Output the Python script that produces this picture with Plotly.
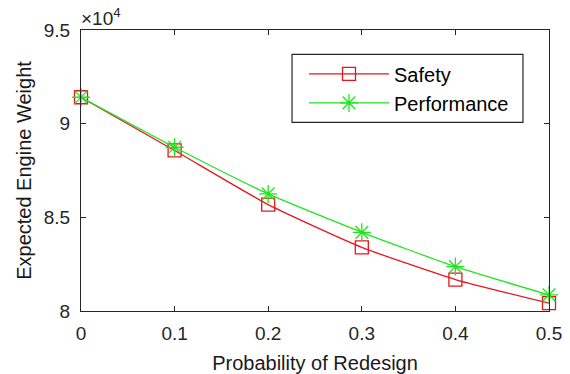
import plotly.graph_objects as go

x_vals = [0, 0.1, 0.2, 0.3, 0.4, 0.5]
safety = [91410, 88570, 85680, 83400, 81680, 80420]
performance = [91410, 88740, 86250, 84200, 82370, 80860]
x_ticks = [0, 0.1, 0.2, 0.3, 0.4, 0.5]
x_ticktext = ["0", "0.1", "0.2", "0.3", "0.4", "0.5"]
y_ticks = [80000, 85000, 90000, 95000]
y_ticktext = ["8", "8.5", "9", "9.5"]

FONT = "Liberation Sans, Arial, Helvetica, sans-serif"
AX = "#262626"

fig = go.Figure()
fig.add_trace(go.Scatter(
    x=x_vals, y=safety, name="Safety", mode="lines+markers", cliponaxis=False,
    line=dict(color="#e8141c", width=1.3, shape="spline", smoothing=0.5),
    marker=dict(symbol="square-open", size=13, color="#e8141c", line=dict(width=1.3)),
))
fig.add_trace(go.Scatter(
    x=x_vals, y=performance, name="Performance", mode="lines+markers", cliponaxis=False,
    line=dict(color="#1ee61e", width=1.3, shape="spline", smoothing=0.5),
    marker=dict(symbol="asterisk-open", size=15, color="#1ee61e", line=dict(width=1.3, color="#1ee61e")),
))

axis_common = dict(
    showgrid=False, zeroline=False, showline=True, linecolor=AX, linewidth=1.2,
    mirror="allticks", ticks="inside", ticklen=5, tickcolor=AX, tickwidth=1.2,
    tickfont=dict(family=FONT, size=19, color=AX), automargin=False,
)
fig.update_xaxes(range=[0, 0.5], tickvals=x_ticks, ticktext=x_ticktext, ticklabelstandoff=5,
                 title=dict(text="Probability of Redesign", font=dict(family=FONT, size=20, color="#1a1a1a"), standoff=13),
                 **axis_common)
fig.update_yaxes(range=[80000, 95000], tickvals=y_ticks, ticktext=y_ticktext, ticklabelstandoff=6,
                 title=dict(text="Expected Engine Weight", font=dict(family=FONT, size=20, color="#1a1a1a"), standoff=6),
                 **axis_common)

fig.add_annotation(xref="paper", yref="paper", x=0, y=1, xanchor="left", yanchor="bottom",
                   text="×10<sup>4</sup>", showarrow=False, yshift=-1, xshift=-2,
                   font=dict(family=FONT, size=19, color=AX))

# legend frame
fig.add_shape(type="rect", xref="paper", yref="paper",
              x0=0.4509, x1=0.9444, y0=0.6715, y1=0.9135,
              line=dict(color=AX, width=1.2), fillcolor="white", layer="below")

fig.update_layout(
    width=570, height=374,
    margin=dict(l=81, r=21, t=30, b=63),
    paper_bgcolor="white", plot_bgcolor="white",
    font=dict(family=FONT, color=AX),
    legend=dict(x=0.4765, y=0.913, xanchor="left", yanchor="top",
                borderwidth=0, bgcolor="rgba(0,0,0,0)",
                font=dict(family=FONT, size=20, color="black"),
                itemwidth=80, tracegroupgap=0),
    showlegend=True,
)

fig.write_html("out.html")
